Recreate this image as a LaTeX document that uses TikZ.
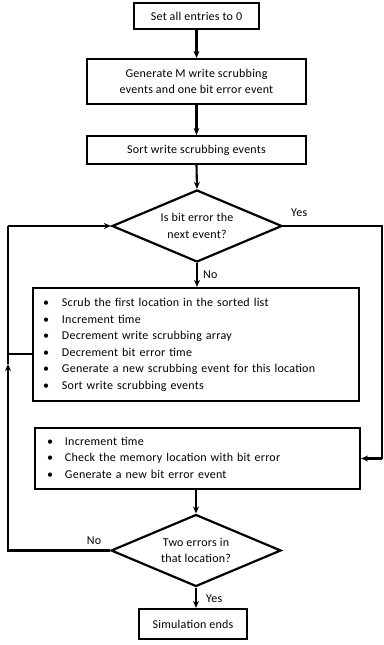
\documentclass[tikz,border=0pt]{standalone}
\usepackage{fontspec}
\setmainfont[LetterSpace=2]{Carlito}
\usetikzlibrary{shapes.geometric,arrows.meta}
\begin{document}
\begin{tikzpicture}[x=1pt,y=-1pt,
  every node/.style={font=\fontsize{12}{16.5}\selectfont},
  box/.style={draw,line width=2.2pt,inner sep=0pt,align=center},
  dia/.style={draw,line width=2.2pt,shape=diamond,aspect=2.36,inner sep=0pt,minimum width=170pt,minimum height=72pt,align=center},
  lbl/.style={inner sep=1pt},
  conn/.style={line width=2.1pt},
  arr/.style={line width=2.1pt,-{Stealth[length=7pt,width=6pt]}}]
\useasboundingbox (0,0) rectangle (383,645);
\node[box,minimum width=125pt,minimum height=26pt] (b1) at (196.5,16) {Set all entries to 0};
\node[box,minimum width=219pt,minimum height=45pt] (b2) at (196.5,81.5) {Generate M write scrubbing\\events and one bit error event};
\node[box,minimum width=219pt,minimum height=28pt] (b3) at (196.5,150) {Sort write scrubbing events};
\node[dia] (d1) at (197,226) {Is bit error the\\next event?};
\node[box,minimum width=326pt,minimum height=113pt,text width=306pt,align=left] (b4) at (196,344.5)
 {\begin{tabular}{@{}l@{\hspace{13pt}}l@{}}
 \textbullet & Scrub the first location in the sorted list\\
 \textbullet & Increment time\\
 \textbullet & Decrement write scrubbing array\\
 \textbullet & Decrement bit error time\\
 \textbullet & Generate a new scrubbing event for this location\\
 \textbullet & Sort write scrubbing events
 \end{tabular}};
\node[box,minimum width=325pt,minimum height=61pt,text width=301pt,align=left] (b5) at (197.5,458.5)
 {\begin{tabular}{@{}l@{\hspace{12pt}}l@{}}
 \textbullet & Increment time\\
 \textbullet & Check the memory location with bit error\\
 \textbullet & Generate a new bit error event
 \end{tabular}};
\node[dia] (d2) at (196,550.5) {Two errors in\\that location?};
\node[box,minimum width=108pt,minimum height=30pt] (b6) at (193,624) {Simulation ends};

\coordinate (rt) at (382,226);
\coordinate (rb) at (382,458.5);
\coordinate (lt) at (8,226);
\coordinate (lm) at (8,354);
\coordinate (la) at (8,364);
\coordinate (lb) at (8,550.5);

\draw[arr] (b1.south) -- (b2.north);
\draw[arr] (b2.south) -- (b3.north);
\draw[arr] (b3.south) -- (d1.north);
\draw[arr] (d1.south) -- (d1.south |- b4.north);
\draw[arr] (b5.south -| d2.north) -- (d2.north);
\draw[arr] (d2.south) -- (d2.south |- b6.north);
\draw[conn] (d1.east) -- (rt) -- (rb);
\draw[arr] (rb) -- (b5.east);
\draw[arr] (d2.west) -- (lb) -- (la);
\draw[conn] (la) -- (lt);
\draw[arr] (lt) -- (d1.west);
\draw[conn] (b4.west |- lm) -- (lm);

\node[lbl,anchor=west] at (290,213) {Yes};
\node[lbl,anchor=west] at (202,275) {No};
\node[lbl] at (94,541) {No};
\node[lbl,anchor=west] at (205,599) {Yes};
\end{tikzpicture}
\end{document}
